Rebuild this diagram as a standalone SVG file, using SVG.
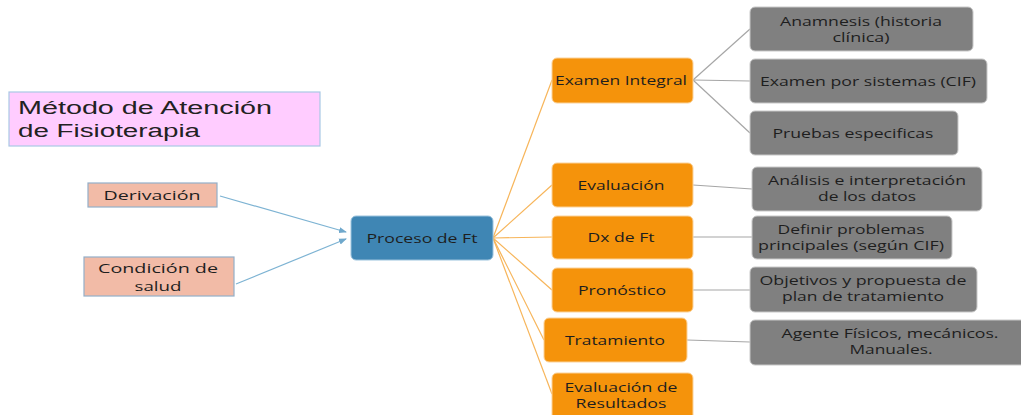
<svg xmlns="http://www.w3.org/2000/svg" width="1021" height="415" viewBox="0 0 1021 415">
<defs>
<style>
text{font-family:"Open Sans","DejaVu Sans",sans-serif;font-size:13px;fill:#1e1e1e;text-anchor:middle}
.title{font-family:"Liberation Sans",Arial,sans-serif;font-size:18px;text-anchor:start;fill:#222}
.org rect{fill:#F5930B;stroke:#FBD29A;stroke-width:1}
.gry rect{fill:#808080;stroke:#C8C8C8;stroke-width:1}
.sal rect{fill:#F2BBA7;stroke:#93AFC8;stroke-width:1.2}
.ol{stroke:#F7B55A;stroke-width:1.2;fill:none}
.gl{stroke:#A6A6A6;stroke-width:1.2;fill:none}
.bl{stroke:#7DB3D3;stroke-width:1.2;fill:none;marker-end:url(#ah)}
</style>
<marker id="ah" markerWidth="8" markerHeight="8" refX="7" refY="4" orient="auto" markerUnits="userSpaceOnUse">
<path d="M0,1 L8,4 L0,7 Z" fill="#6FA8CC"/>
</marker>
</defs>
<rect width="1021" height="415" fill="#fff"/>
<g id="connectors">
<line class="bl" x1="220" y1="196" x2="346" y2="232"/>
<line class="bl" x1="236" y1="284" x2="346" y2="239"/>
<line class="ol" x1="493" y1="238" x2="552" y2="80"/>
<line class="ol" x1="493" y1="238" x2="552" y2="185"/>
<line class="ol" x1="493" y1="238" x2="552" y2="237"/>
<line class="ol" x1="493" y1="238" x2="552" y2="290"/>
<line class="ol" x1="493" y1="238" x2="544" y2="340"/>
<line class="ol" x1="493" y1="238" x2="552" y2="394"/>
<line class="gl" x1="693" y1="80" x2="750" y2="29"/>
<line class="gl" x1="693" y1="80" x2="750" y2="81"/>
<line class="gl" x1="693" y1="80" x2="750" y2="133"/>
<line class="gl" x1="693" y1="185" x2="752" y2="189"/>
<line class="gl" x1="693" y1="237" x2="752" y2="237"/>
<line class="gl" x1="693" y1="290" x2="750" y2="290"/>
<line class="gl" x1="687" y1="340" x2="750" y2="342"/>
</g>
<g id="title">
<rect x="9" y="92" width="311" height="54" fill="#FFCCFF" stroke="#A9C8E4" stroke-width="1.2"/>
<text class="title" x="18" y="114" textLength="254" lengthAdjust="spacingAndGlyphs">Método de Atención</text>
<text class="title" x="18" y="137" textLength="182" lengthAdjust="spacingAndGlyphs">de Fisioterapia</text>
</g>
<g id="derivacion" class="sal">
<rect x="88" y="183" width="129" height="24"/>
<text x="152" y="200" textLength="97" lengthAdjust="spacingAndGlyphs">Derivación</text>
</g>
<g id="condicion" class="sal">
<rect x="84" y="257" width="150" height="39"/>
<text x="158" y="273" textLength="120" lengthAdjust="spacingAndGlyphs">Condición de</text>
<text x="158" y="291" textLength="47" lengthAdjust="spacingAndGlyphs">salud</text>
</g>
<g id="proceso">
<rect x="351" y="216" width="142" height="44" rx="5" fill="#3F86B4" stroke="#9CC3DD" stroke-width="1"/>
<text x="422" y="243" textLength="111" lengthAdjust="spacingAndGlyphs">Proceso de Ft</text>
</g>
<g id="examen" class="org">
<rect x="552" y="58" width="141" height="45" rx="5"/>
<text x="621" y="85" textLength="132" lengthAdjust="spacingAndGlyphs">Examen Integral</text>
</g>
<g id="evaluacion" class="org">
<rect x="552" y="163" width="141" height="44" rx="5"/>
<text x="621" y="190" textLength="87" lengthAdjust="spacingAndGlyphs">Evaluación</text>
</g>
<g id="dx" class="org">
<rect x="552" y="216" width="141" height="43" rx="5"/>
<text x="621" y="242" textLength="67" lengthAdjust="spacingAndGlyphs">Dx de Ft</text>
</g>
<g id="pronostico" class="org">
<rect x="552" y="268" width="141" height="44" rx="5"/>
<text x="622" y="295" textLength="88" lengthAdjust="spacingAndGlyphs">Pronóstico</text>
</g>
<g id="tratamiento" class="org">
<rect x="544" y="318" width="143" height="44" rx="5"/>
<text x="615" y="345" textLength="100" lengthAdjust="spacingAndGlyphs">Tratamiento</text>
</g>
<g id="evalres" class="org">
<rect x="552" y="373" width="141" height="50" rx="5"/>
<text x="621" y="392" textLength="113" lengthAdjust="spacingAndGlyphs">Evaluación de</text>
<text x="621" y="408" textLength="91" lengthAdjust="spacingAndGlyphs">Resultados</text>
</g>
<g id="anamnesis" class="gry">
<rect x="750" y="7" width="223" height="44" rx="5"/>
<text x="861" y="26" textLength="162" lengthAdjust="spacingAndGlyphs">Anamnesis (historia</text>
<text x="861" y="42" textLength="57" lengthAdjust="spacingAndGlyphs">clínica)</text>
</g>
<g id="sistemas" class="gry">
<rect x="750" y="59" width="237" height="44" rx="5"/>
<text x="868" y="86" textLength="216" lengthAdjust="spacingAndGlyphs">Examen por sistemas (CIF)</text>
</g>
<g id="pruebas" class="gry">
<rect x="750" y="111" width="208" height="44" rx="5"/>
<text x="853" y="138" textLength="161" lengthAdjust="spacingAndGlyphs">Pruebas especificas</text>
</g>
<g id="analisis" class="gry">
<rect x="752" y="167" width="230" height="44" rx="5"/>
<text x="867" y="185" textLength="198" lengthAdjust="spacingAndGlyphs">Análisis e interpretación</text>
<text x="867" y="201" textLength="98" lengthAdjust="spacingAndGlyphs">de los datos</text>
</g>
<g id="definir" class="gry">
<rect x="752" y="216" width="200" height="43" rx="5"/>
<text x="851" y="234" textLength="147" lengthAdjust="spacingAndGlyphs">Definir problemas</text>
<text x="851" y="250" textLength="186" lengthAdjust="spacingAndGlyphs">principales (según CIF)</text>
</g>
<g id="objetivos" class="gry">
<rect x="750" y="267" width="227" height="45" rx="5"/>
<text x="863" y="285" textLength="207" lengthAdjust="spacingAndGlyphs">Objetivos y propuesta de</text>
<text x="863" y="301" textLength="162" lengthAdjust="spacingAndGlyphs">plan de tratamiento</text>
</g>
<g id="agente" class="gry">
<rect x="750" y="320" width="280" height="45" rx="5"/>
<text x="890" y="338" textLength="217" lengthAdjust="spacingAndGlyphs">Agente Físicos, mecánicos.</text>
<text x="891" y="354" textLength="83" lengthAdjust="spacingAndGlyphs">Manuales.</text>
</g>
</svg>
